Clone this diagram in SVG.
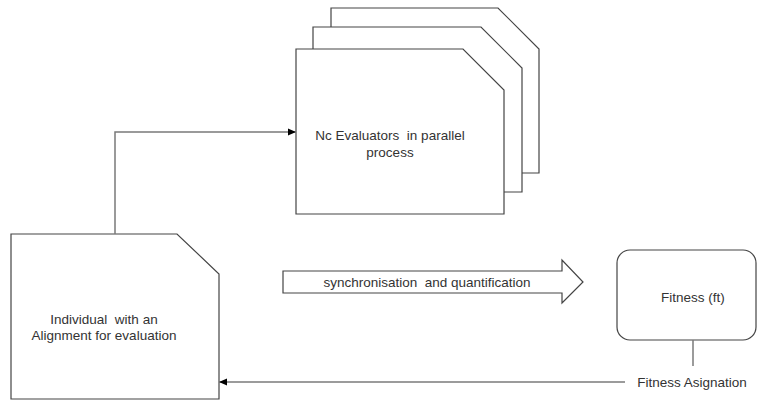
<svg xmlns="http://www.w3.org/2000/svg" width="757" height="400" viewBox="0 0 757 400">
<style>
.shape{fill:#fff;stroke:#444;stroke-width:1.2}
.conn{fill:none;stroke:#7a7a7a;stroke-width:1.5}
.lbl{font-family:"Liberation Sans",Arial,sans-serif;font-size:13.5px;fill:#333;text-anchor:middle;white-space:pre}
</style>
<defs>
<marker id="ah" markerWidth="8" markerHeight="8" refX="7" refY="4" orient="auto" markerUnits="userSpaceOnUse">
<path d="M0,0.5 L8,4 L0,7.5 Z" fill="#000"/>
</marker>
</defs>
<rect width="757" height="400" fill="#fff"/>
<g id="evaluators">
<path class="shape" d="M331,8 H498 L539,49 V173 H331 Z"/>
<path class="shape" d="M313,27 H481 L522,68 V192 H313 Z"/>
<path class="shape" d="M296,49 H463 L504,90 V214 H296 Z"/>
<text class="lbl" x="390" y="140" xml:space="preserve">Nc Evaluators  in parallel</text>
<text class="lbl" x="390" y="157">process</text>
</g>
<g id="individual">
<path class="shape" d="M11,234 H177 L219,274 V399 H11 Z"/>
<text class="lbl" x="104" y="324" xml:space="preserve">Individual  with an</text>
<text class="lbl" x="104" y="340">Alignment for evaluation</text>
</g>
<g id="sync">
<path class="shape" d="M283,271 H562 V260 L583,282 L562,303 V293 H283 Z"/>
<text class="lbl" x="427" y="287" xml:space="preserve">synchronisation  and quantification</text>
</g>
<g id="fitness">
<rect class="shape" x="617" y="250" width="139" height="90" rx="13"/>
<text class="lbl" x="693" y="302">Fitness (ft)</text>
</g>
<g id="asignation">
<text class="lbl" x="692" y="387">Fitness Asignation</text>
</g>
<g id="connectors">
<path class="conn" d="M115,234 V132 H295" marker-end="url(#ah)"/>
<path class="conn" d="M693,340 V366"/>
<path class="conn" d="M625,382 H220" marker-end="url(#ah)"/>
</g>
</svg>
